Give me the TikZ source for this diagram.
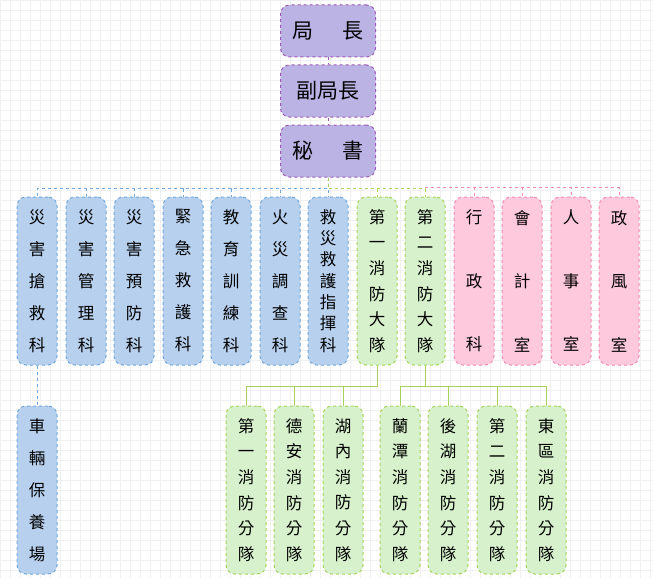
\documentclass[tikz,border=0pt]{standalone}
\usepackage{fontspec}
\newfontfamily\cjk{Noto Sans CJK TC}
\usetikzlibrary{positioning}
\definecolor{purpfill}{HTML}{BBB3E4}\definecolor{purpline}{HTML}{9B59B6}
\definecolor{bluefill}{HTML}{B7D0EE}\definecolor{blueline}{HTML}{6FA8DC}
\definecolor{grnfill}{HTML}{D6F1CB}\definecolor{grnline}{HTML}{A8D15A}
\definecolor{pinkfill}{HTML}{FFC9DD}\definecolor{pinkline}{HTML}{F08CB4}
\tikzset{
  unit/.style={draw, dashed, line width=1pt, rounded corners=9pt, minimum width=40pt, minimum height=168pt, inner sep=0pt, align=center, font=\cjk\fontsize{16.5}{#1}\selectfont},
  topbox/.style={unit=24, draw=purpline, fill=purpfill, minimum width=95pt, minimum height=52pt, font=\cjk\fontsize{21}{24}\selectfont},
  sect/.style={unit=#1, draw=blueline, fill=bluefill},
  brig/.style={unit=#1, draw=grnline, fill=grnfill},
  offc/.style={unit=#1, draw=pinkline, fill=pinkfill},
}
\begin{document}
\begin{tikzpicture}[x=1pt, y=-1pt]
\useasboundingbox (0,0) rectangle (653,578);
\draw[gray!12, step=10pt] (0,0) grid (653,578);

\node[topbox] (chief) at (328, 31) {局\hspace{1.4em}長};
\node[topbox] (deputy) at (328, 91) {副局長};
\node[topbox] (sec) at (328, 151) {秘\hspace{1.4em}書};

% sections
\node[sect=32] (s1) at (37, 281) {災\\害\\搶\\救\\科};
\node[sect=32] (s2) at (86, 281) {災\\害\\管\\理\\科};
\node[sect=32] (s3) at (134, 281) {災\\害\\預\\防\\科};
\node[sect=32] (s4) at (183, 281) {緊\\急\\救\\護\\科};
\node[sect=32] (s5) at (231, 281) {教\\育\\訓\\練\\科};
\node[sect=32] (s6) at (280, 281) {火\\災\\調\\查\\科};
\node[sect=21.3] (s7) at (328, 281) {救\\災\\救\\護\\指\\揮\\科};
\node[brig=25.6] (b1) at (377, 281) {第\\一\\消\\防\\大\\隊};
\node[brig=25.6] (b2) at (425, 281) {第\\二\\消\\防\\大\\隊};
\node[offc=63.5] (o1) at (474, 281) {行\\政\\科};
\node[offc=63.5] (o2) at (522, 281) {會\\計\\室};
\node[offc=63.5] (o3) at (571, 281) {人\\事\\室};
\node[offc=63.5] (o4) at (619, 281) {政\\風\\室};

\node[sect=32] (garage) at (37, 490) {車\\輛\\保\\養\\場};

% squads
\node[brig=25.6] (q1) at (246, 490) {第\\一\\消\\防\\分\\隊};
\node[brig=25.6] (q2) at (294, 490) {德\\安\\消\\防\\分\\隊};
\node[brig=25.6] (q3) at (343, 490) {湖\\內\\消\\防\\分\\隊};
\node[brig=25.6] (q4) at (400, 490) {蘭\\潭\\消\\防\\分\\隊};
\node[brig=25.6] (q5) at (448, 490) {後\\湖\\消\\防\\分\\隊};
\node[brig=25.6] (q6) at (497, 490) {第\\二\\消\\防\\分\\隊};
\node[brig=25.6] (q7) at (546, 490) {東\\區\\消\\防\\分\\隊};

\draw[purpline, dashed] (chief) -- (deputy) (deputy) -- (sec);
\foreach \n in {s1,s2,s3,s4,s5,s6,s7}
  \draw[blueline, dashed] (sec.south) -- ++(0,11) -| (\n.north);
\foreach \n in {b1,b2}
  \draw[grnline, dashed] (sec.south) -- ++(0,11) -| (\n.north);
\foreach \n in {o1,o2,o3,o4}
  \draw[pinkline, dashed] (b2.north) ++(0,-9) -| (\n.north);
\draw[blueline, dashed] (s1) -- (garage);
\foreach \n in {q1,q2,q3}
  \draw[grnline, line width=1pt] (b1.south) -- ++(0,21) -| (\n.north);
\foreach \n in {q4,q5,q6,q7}
  \draw[grnline, line width=1pt] (b2.south) -- ++(0,21) -| (\n.north);
\end{tikzpicture}
\end{document}
